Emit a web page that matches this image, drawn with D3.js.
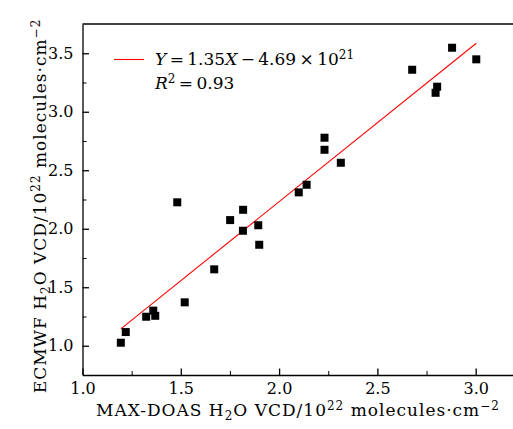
<!DOCTYPE html>
<html>
<head>
<meta charset="utf-8">
<script src="https://cdn.jsdelivr.net/npm/d3@7"></script>
<style>
  body { margin: 0; background: #fff; }
  svg text { font-family: "DejaVu Serif", "Liberation Serif", serif; fill: #000; }
</style>
</head>
<body>
<svg width="513" height="429"></svg>
<script>
// MAX-DOAS vs ECMWF H2O VCD (10^22 molecules/cm^2)
var maxdoas = [1.195, 1.22, 1.324, 1.36, 1.37, 1.482, 1.52, 1.67, 1.751, 1.816, 1.817, 1.894, 1.899, 2.10, 2.14, 2.231, 2.231, 2.314, 2.677, 2.796, 2.804, 2.88, 3.003];
var ecmwf   = [1.026, 1.117, 1.248, 1.30, 1.256, 2.226, 1.371, 1.653, 2.074, 1.983, 2.162, 2.03, 1.863, 2.311, 2.376, 2.778, 2.675, 2.564, 3.359, 3.162, 3.214, 3.547, 3.448];
var slope = 1.35, intercept = -0.469;
var xTicks = [1.0, 1.5, 2.0, 2.5, 3.0];
var yTicks = [1.0, 1.5, 2.0, 2.5, 3.0, 3.5];

var svg = d3.select('svg');
var mLeft = 82.5, mRight = 515, mTop = 24, mBottom = 375;

var x = d3.scaleLinear().domain([1, 3.2]).range([mLeft, mRight]);
var y = d3.scaleLinear().domain([0.75, 3.75]).range([mBottom, mTop]);

var fs = '16px', fsT = '17px', fsSmall = '12px';

// minor ticks
svg.append('g')
    .attr('transform', 'translate(0,' + mBottom + ')')
    .call(d3.axisBottom(x).tickValues([1.25, 1.75, 2.25, 2.75, 3.25]).tickSize(-4).tickFormat(''))
    .call(function (g) { g.select('.domain').remove(); });
svg.append('g')
    .attr('transform', 'translate(' + mLeft + ',0)')
    .call(d3.axisLeft(y).tickValues([1.25, 1.75, 2.25, 2.75, 3.25]).tickSize(-4).tickFormat(''))
    .call(function (g) { g.select('.domain').remove(); });

var xAxis = svg.append('g')
    .attr('transform', 'translate(0,' + mBottom + ')')
    .call(d3.axisBottom(x).tickValues(xTicks).tickSize(-6.5).tickSizeOuter(0).tickPadding(8).tickFormat(d3.format('.1f')));
var yAxis = svg.append('g')
    .attr('transform', 'translate(' + mLeft + ',0)')
    .call(d3.axisLeft(y).tickValues(yTicks).tickSize(-6.5).tickSizeOuter(0).tickPadding(9).tickFormat(d3.format('.1f')));

[xAxis, yAxis].forEach(function (g) {
    g.attr('font-family', null).attr('font-size', null);
    g.selectAll('text').style('font-size', fs);
    g.selectAll('line, path').attr('stroke', '#000').attr('stroke-width', 1.3);
});

// top frame line
svg.append('line')
    .attr('x1', mLeft).attr('x2', 513)
    .attr('y1', mTop).attr('y2', mTop)
    .attr('stroke', '#000').attr('stroke-width', 1.3);

// fit line
var xmin = d3.min(maxdoas), xmax = d3.max(maxdoas);
svg.append('line')
    .attr('x1', x(xmin)).attr('y1', y(slope * xmin + intercept))
    .attr('x2', x(xmax)).attr('y2', y(slope * xmax + intercept))
    .attr('stroke', '#ff0000').attr('stroke-width', 1.1);

// points
var sz = 8;
svg.selectAll('rect.pt')
    .data(maxdoas)
    .enter()
    .append('rect')
    .attr('class', 'pt')
    .attr('x', function (d) { return x(d) - sz / 2; })
    .attr('y', function (d, i) { return y(ecmwf[i]) - sz / 2; })
    .attr('width', sz).attr('height', sz)
    .attr('fill', '#000');

// legend
svg.append('line')
    .attr('x1', 114).attr('x2', 144).attr('y1', 59.5).attr('y2', 59.5)
    .attr('stroke', '#ff0000').attr('stroke-width', 1.1);

function mathText(xpos, ypos, parts) {
    var t = svg.append('text').attr('x', xpos).attr('y', ypos).style('font-size', fsT);
    parts.forEach(function (p) {
        var s = t.append('tspan').text(p.t);
        if (p.i) s.style('font-style', 'italic');
        if (p.small) s.style('font-size', fsSmall);
        if (p.dy) s.attr('dy', p.dy);
    });
    return t;
}
mathText(155, 65, [
    {t: 'Y', i: true}, {t: '\u2009=\u20091.35'}, {t: 'X', i: true}, {t: '\u2009\u2212\u20094.69\u2009\u00d7\u200910'},
    {t: '21', small: true, dy: -6}
]);
mathText(155, 88.5, [
    {t: 'R', i: true}, {t: '2', small: true, dy: -6}, {t: '\u2009=\u20090.93', dy: 6}
]);

// axis titles
function unitTitle(t, name) {
    t.append('tspan').text(name + ' H');
    t.append('tspan').text('2').attr('dy', 4).style('font-size', fsSmall);
    t.append('tspan').text('O VCD/10').attr('dy', -4);
    t.append('tspan').text('22').attr('dy', -6).style('font-size', fsSmall);
    t.append('tspan').text(' molecules\u00b7cm').attr('dy', 6);
    t.append('tspan').text('\u22122').attr('dy', -6).style('font-size', fsSmall);
}
unitTitle(svg.append('text')
    .attr('x', 298).attr('y', 416)
    .attr('text-anchor', 'middle').style('font-size', fsT).style('letter-spacing', '1px'), 'MAX-DOAS');

unitTitle(svg.append('text')
    .attr('transform', 'translate(46,206) rotate(-90)')
    .attr('text-anchor', 'middle').style('font-size', fsT).style('letter-spacing', '1px'), 'ECMWF');
</script>
</body>
</html>
